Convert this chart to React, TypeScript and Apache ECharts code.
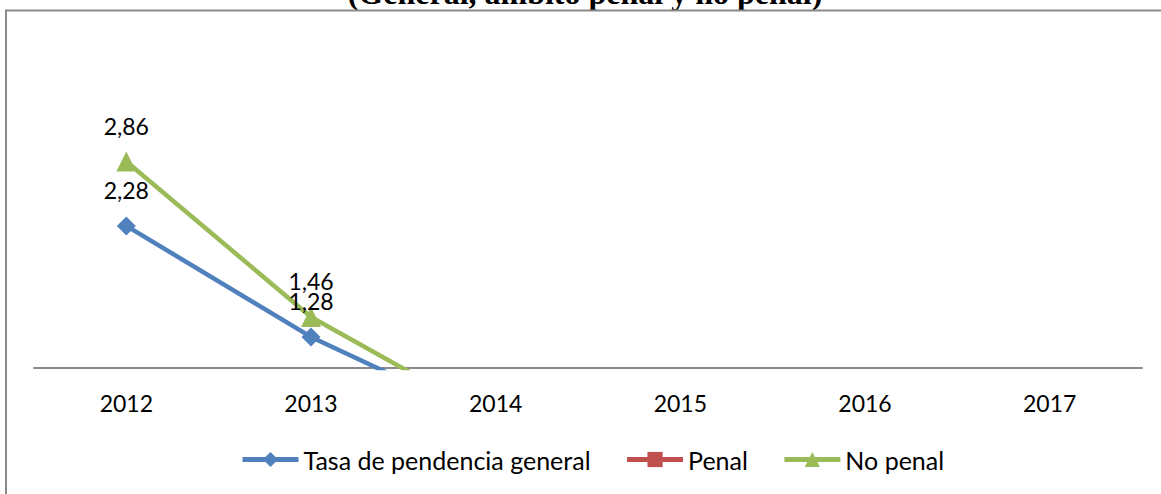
import React, { useEffect, useRef } from "react";
import * as echarts from "echarts";

const categories = ["2012", "2013", "2014", "2015", "2016", "2017"];
const seriesNames = ["Tasa de pendencia general", "Penal", "No penal"];
const tasaGeneral = [2.28, 1.28, 0.5, null, null, null];
const penal = [0.62, 0.48, 0.35, null, null, null];
const noPenal = [2.86, 1.46, 0.53, null, null, null];
const titleText = "(General, ámbito penal y no penal)";

const FONT = "Lato";

const fmt = (p: any) =>
  p.value == null ? "" : Number(p.value).toFixed(2).replace(".", ",");

export default function App() {
  const ref = useRef<HTMLDivElement>(null);
  useEffect(() => {
    document.body.style.margin = "0";
    const chart = echarts.init(ref.current!, undefined, { renderer: "svg" });
    const mk = (name: string, data: any[], color: string, symbol: string, size: number, dist: number) => ({
      name,
      type: "line",
      data,
      symbol,
      symbolSize: size,
      clip: true,
      connectNulls: false,
      lineStyle: { color, width: 4.5 },
      itemStyle: { color },
      label: {
        show: true,
        position: "top",
        distance: dist,
        formatter: fmt,
        fontFamily: FONT,
        fontSize: 23,
        color: "#000",
      },
      z: 2,
    });
    chart.setOption({
      animation: false,
      textStyle: { fontFamily: FONT },
      graphic: [
        {
          type: "text",
          z: -2,
          x: 585,
          y: -7,
          style: {
            text: titleText,
            fontFamily: "Liberation Serif",
            fontWeight: "bold",
            fontSize: 32,
            fill: "#000",
            align: "center",
            verticalAlign: "middle",
          },
        },
        {
          type: "rect",
          z: -1,
          shape: { x: 6, y: 10.5, width: 1400, height: 800 },
          style: { fill: "#fff", stroke: "#898989", lineWidth: 2 },
        },
      ],
      grid: { left: 34, right: 19, top: 35, bottom: 126, containLabel: false },
      xAxis: {
        type: "category",
        data: categories,
        boundaryGap: true,
        axisLine: { show: true, lineStyle: { color: "#8a8a8a", width: 2 } },
        axisTick: { show: false },
        axisLabel: { fontFamily: FONT, fontSize: 23, color: "#000", margin: 23 },
        splitLine: { show: false },
      },
      yAxis: {
        type: "value",
        min: 1,
        max: 4,
        show: false,
        splitLine: { show: false },
      },
      legend: {
        data: seriesNames,
        left: 240,
        top: 447,
        padding: 0,
        itemGap: 34,
        itemWidth: 56,
        itemHeight: 19,
        lineStyle: { width: 5 },
        textStyle: { fontFamily: FONT, fontSize: 25, color: "#000" },
      },
      series: [
        mk(seriesNames[0], tasaGeneral, "#4F81BD", "diamond", 19, 15),
        mk(seriesNames[1], penal, "#C0504D", "rect", 15, 15),
        mk(seriesNames[2], noPenal, "#9BBB59", "triangle", 20, 14),
      ],
    });
    return () => chart.dispose();
  }, []);
  return <div ref={ref} style={{ width: 1161, height: 494 }} />;
}
